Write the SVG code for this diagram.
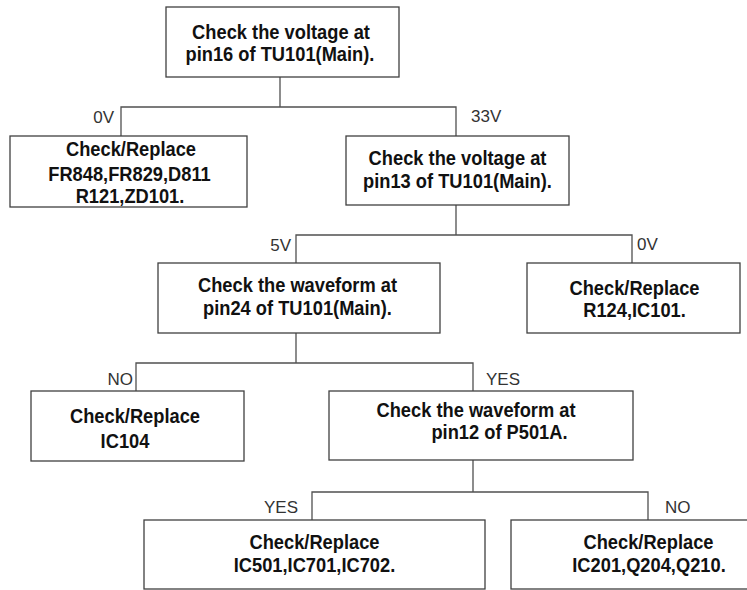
<svg xmlns="http://www.w3.org/2000/svg" width="747" height="590" viewBox="0 0 747 590">
<style>
.box{fill:#fff;stroke:#404040;stroke-width:1.3}
.ln{fill:none;stroke:#505050;stroke-width:1.3}
.t{font-family:"Liberation Sans",Arial,sans-serif;font-weight:bold;font-size:18.3px;fill:#111;text-anchor:middle}
.l{font-family:"Liberation Sans",Arial,sans-serif;font-size:17px;fill:#333}
.e{text-anchor:end}
</style>
<rect width="747" height="590" fill="#fff"/>
<g id="connectors">
<path class="ln" d="M280,77 V107 M121,136 V107 H456 V136"/>
<path class="ln" d="M456,205 V235 M296,263 V235 H632 V263"/>
<path class="ln" d="M296,333 V363 M136,391 V363 H473 V391"/>
<path class="ln" d="M473,460 V492 M312,520 V492 H648 V520"/>
<text class="l e" x="114" y="123">0V</text>
<text class="l" x="471" y="122">33V</text>
<text class="l e" x="291" y="251">5V</text>
<text class="l" x="637" y="250">0V</text>
<text class="l e" x="133" y="385">NO</text>
<text class="l" x="486" y="385">YES</text>
<text class="l e" x="298" y="513">YES</text>
<text class="l" x="665" y="513">NO</text>
</g>
<g id="n1">
<rect class="box" x="166" y="7" width="233" height="70"/>
<text class="t" transform="translate(281,38.5) scale(1,1.12)">Check the voltage at</text>
<text class="t" transform="translate(280,61) scale(1,1.12)">pin16 of TU101(Main).</text>
</g>
<g id="n2">
<rect class="box" x="10" y="136" width="237" height="71"/>
<text class="t" transform="translate(131,156) scale(1,1.12)">Check/Replace</text>
<text class="t" transform="translate(129.5,180.5) scale(1,1.12)">FR848,FR829,D811</text>
<text class="t" transform="translate(130,203) scale(1,1.12)">R121,ZD101.</text>
</g>
<g id="n3">
<rect class="box" x="346" y="136" width="223" height="69"/>
<text class="t" transform="translate(457.5,165) scale(1,1.12)">Check the voltage at</text>
<text class="t" transform="translate(457.5,187.5) scale(1,1.12)">pin13 of TU101(Main).</text>
</g>
<g id="n4">
<rect class="box" x="158" y="263" width="282" height="70"/>
<text class="t" transform="translate(297.5,292) scale(1,1.12)">Check the waveform at</text>
<text class="t" transform="translate(297.5,314.5) scale(1,1.12)">pin24 of TU101(Main).</text>
</g>
<g id="n5">
<rect class="box" x="527" y="263" width="213" height="70"/>
<text class="t" transform="translate(634.5,295) scale(1,1.12)">Check/Replace</text>
<text class="t" transform="translate(634.5,317) scale(1,1.12)">R124,IC101.</text>
</g>
<g id="n6">
<rect class="box" x="31" y="391" width="213" height="70"/>
<text class="t" transform="translate(135,422.5) scale(1,1.12)">Check/Replace</text>
<text class="t" transform="translate(125,448) scale(1,1.12)">IC104</text>
</g>
<g id="n7">
<rect class="box" x="329" y="391" width="304" height="69"/>
<text class="t" transform="translate(476,416.5) scale(1,1.12)">Check the waveform at</text>
<text class="t" transform="translate(499.5,439) scale(1,1.12)">pin12 of P501A.</text>
</g>
<g id="n8">
<rect class="box" x="144" y="520" width="341" height="69"/>
<text class="t" transform="translate(314.5,549) scale(1,1.12)">Check/Replace</text>
<text class="t" transform="translate(314.5,571.5) scale(1,1.12)">IC501,IC701,IC702.</text>
</g>
<g id="n9">
<rect class="box" x="511" y="520" width="240" height="69"/>
<text class="t" transform="translate(648.5,548.5) scale(1,1.12)">Check/Replace</text>
<text class="t" transform="translate(649,571.5) scale(1,1.12)">IC201,Q204,Q210.</text>
</g>
</svg>
